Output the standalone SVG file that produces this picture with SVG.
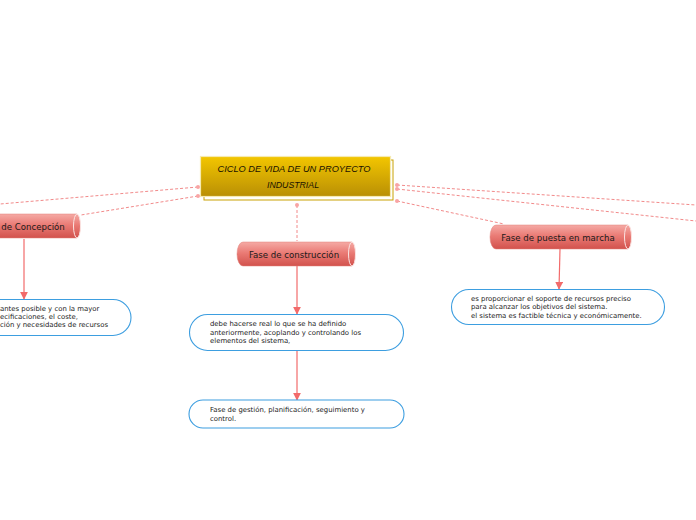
<svg xmlns="http://www.w3.org/2000/svg" width="696" height="520" viewBox="0 0 696 520">
<defs>
<linearGradient id="gold" x1="0" y1="0" x2="0" y2="1">
<stop offset="0" stop-color="#f3c600"/>
<stop offset="1" stop-color="#b98f05"/>
</linearGradient>
<linearGradient id="red" x1="0" y1="0" x2="0" y2="1">
<stop offset="0" stop-color="#f5aaa5"/>
<stop offset="0.45" stop-color="#ea7b75"/>
<stop offset="1" stop-color="#d2524d"/>
</linearGradient>
<marker id="arr" viewBox="0 0 10 10" refX="9" refY="5" markerWidth="8" markerHeight="8" markerUnits="userSpaceOnUse" orient="auto">
<path d="M0,0 L10,5 L0,10 z" fill="#f26b6b"/>
</marker>
<style>
.dash{fill:none;stroke:#f28a8a;stroke-width:1;stroke-dasharray:3,2}
.arrow{fill:none;stroke:#f26b6b;stroke-width:1.2;marker-end:url(#arr)}
.dot{fill:#f8a5a5}
.body{fill:url(#red);stroke:#e0807b;stroke-width:0.5}
.cap{fill:url(#red);stroke:#fbe3e1;stroke-width:1}
.nt{font-family:"DejaVu Sans","Liberation Sans",sans-serif;font-size:8.6px;fill:#1a1a1a;text-anchor:middle}
.box{fill:#ffffff;stroke:#3d9ee0;stroke-width:1.1}
.bt{font-family:"DejaVu Sans","Liberation Sans",sans-serif;font-size:6.9px;fill:#222}
.title{font-family:"Liberation Sans",sans-serif;font-style:italic;font-size:9.5px;fill:#1a1200;text-anchor:middle}
</style>
</defs>

<g id="connectors">
<line class="dash" x1="198" y1="187" x2="0" y2="204"/>
<line class="dash" x1="198" y1="196" x2="81" y2="215"/>
<line class="dash" x1="297" y1="205" x2="297" y2="241"/>
<line class="dash" x1="397" y1="185" x2="696" y2="205"/>
<line class="dash" x1="397" y1="189" x2="696" y2="221"/>
<line class="dash" x1="397" y1="201" x2="504" y2="224"/>
<circle class="dot" cx="198" cy="187" r="2"/>
<circle class="dot" cx="198" cy="196" r="2"/>
<circle class="dot" cx="397" cy="185" r="2"/>
<circle class="dot" cx="397" cy="189" r="2"/>
<circle class="dot" cx="397" cy="201" r="2"/>
<circle class="dot" cx="297" cy="205" r="2"/>
<line class="arrow" x1="24" y1="239" x2="24" y2="299"/>
<line class="arrow" x1="297" y1="266" x2="297" y2="314"/>
<line class="arrow" x1="297" y1="351" x2="297" y2="400"/>
<line class="arrow" x1="560" y1="249" x2="559" y2="289"/>
</g>

<g id="title">
<rect x="204" y="160" width="189" height="40" fill="#ffffff" stroke="#c9a204" stroke-width="1"/>
<rect x="200.5" y="156.5" width="190" height="40" fill="url(#gold)" stroke="#f6eab0" stroke-width="1.2"/>
<text class="title" x="294" y="172" textLength="153" lengthAdjust="spacingAndGlyphs">CICLO DE VIDA DE UN PROYECTO</text>
<text class="title" x="293" y="188" textLength="52" lengthAdjust="spacingAndGlyphs">INDUSTRIAL</text>
</g>

<g id="node-concepcion">
<path class="body" d="M-40,214 H77 V238 H-40 Z"/>
<ellipse class="cap" cx="77" cy="226" rx="3.5" ry="12"/>
<text class="nt" x="33" y="229.5">de Concepción</text>
</g>

<g id="node-construccion">
<path class="body" d="M243,242 H352 V266 H243 A6,12 0 0 1 243,242 Z"/>
<ellipse class="cap" cx="352" cy="254" rx="3.5" ry="12"/>
<text class="nt" x="294" y="257.5">Fase de construcción</text>
</g>

<g id="node-puesta">
<path class="body" d="M496,225 H628 V249 H496 A6,12 0 0 1 496,225 Z"/>
<ellipse class="cap" cx="628" cy="237" rx="3.5" ry="12"/>
<text class="nt" x="558" y="240.5">Fase de puesta en marcha</text>
</g>

<g id="box-concepcion">
<rect class="box" x="-60" y="299.5" width="191" height="36" rx="18"/>
<text class="bt"><tspan x="0" y="311">antes posible y con la mayor</tspan><tspan x="0" y="319">ecificaciones, el coste,</tspan><tspan x="0" y="327">ción y necesidades de recursos</tspan></text>
</g>

<g id="box-construccion">
<rect class="box" x="189.5" y="314.5" width="214" height="36" rx="18"/>
<text class="bt"><tspan x="210" y="326">debe hacerse real lo que se ha definido</tspan><tspan x="210" y="334.5">anteriormente, acoplando y controlando los</tspan><tspan x="210" y="343">elementos del sistema,</tspan></text>
</g>

<g id="box-gestion">
<rect class="box" x="189" y="400" width="215" height="28" rx="14"/>
<text class="bt"><tspan x="210" y="411.5">Fase de gestión, planificación, seguimiento y</tspan><tspan x="210" y="420.5">control.</tspan></text>
</g>

<g id="box-puesta">
<rect class="box" x="451.5" y="289.5" width="213" height="35" rx="17.5"/>
<text class="bt"><tspan x="471" y="300.5">es proporcionar el soporte de recursos preciso</tspan><tspan x="471" y="309">para alcanzar los objetivos del sistema.</tspan><tspan x="471" y="317.5">el sistema es factible técnica y económicamente.</tspan></text>
</g>
</svg>
